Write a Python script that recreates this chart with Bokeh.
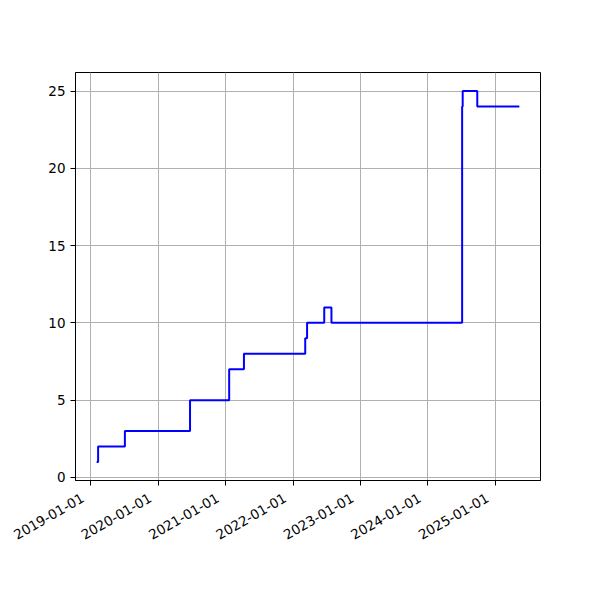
import math
import pandas as pd
from bokeh.plotting import figure
from bokeh.models import FixedTicker, Range1d, LinearAxis
from bokeh.embed import file_html
from bokeh.resources import INLINE

dates = ["2019-02-02", "2019-02-10", "2019-07-05", "2020-06-22", "2021-01-20",
         "2021-04-10", "2022-03-08", "2022-03-18", "2022-06-19", "2022-07-28",
         "2024-07-05", "2024-07-08", "2024-09-25", "2025-05-11"]
values = [1, 2, 3, 5, 7, 8, 9, 10, 11, 10, 24, 25, 24, 24]
tick_dates = ["2019-01-01", "2020-01-01", "2021-01-01", "2022-01-01",
              "2023-01-01", "2024-01-01", "2025-01-01"]
y_ticks = [0, 5, 10, 15, 20, 25]

x = pd.to_datetime(dates)
xt = [pd.Timestamp(d).value / 1e6 for d in tick_dates]

x0 = pd.Timestamp(dates[0]).value / 1e6
x1 = pd.Timestamp(dates[-1]).value / 1e6
dx = (x1 - x0) * 0.05
ymin, ymax = min(values), max(values)
dy = (ymax - ymin) * 0.05

FRAME_W = 465
p = figure(width=592, height=592, x_axis_type="datetime",
           output_backend="svg", toolbar_location=None,
           x_range=Range1d(x0 - dx, x1 + dx),
           y_range=Range1d(ymin - dy, ymax + dy),
           min_border_left=75, min_border_right=52,
           min_border_top=72, min_border_bottom=112)

p.step(x, values, mode="after", line_color="blue", line_width=2)

# tick marks at Jan 1, no labels
p.xaxis.ticker = FixedTicker(ticks=xt)
p.xaxis.major_label_overrides = {t: "" for t in xt}
p.xaxis.major_label_standoff = 0
p.yaxis.ticker = FixedTicker(ticks=y_ticks)

# label-only axis, labels shifted slightly left like matplotlib's right-aligned rotated labels
ms_per_px = ((x1 + dx) - (x0 - dx)) / FRAME_W
shift = 8 * ms_per_px
xt_lab = [t - shift for t in xt]
lab_axis = LinearAxis(ticker=FixedTicker(ticks=xt_lab),
                      major_label_overrides={t: d for t, d in zip(xt_lab, tick_dates)},
                      major_label_orientation=math.pi / 6,
                      axis_line_color=None, major_tick_line_color=None,
                      minor_tick_line_color=None, major_label_standoff=5,
                      major_label_text_font="DejaVu Sans",
                      major_label_text_font_size="13.5px",
                      major_label_text_color="black")
p.add_layout(lab_axis, "below")

for ax in [p.xaxis[0], p.yaxis[0]]:
    ax.major_label_text_font = "DejaVu Sans"
    ax.major_label_text_font_size = "13.5px"
    ax.major_label_text_color = "black"
    ax.axis_line_color = "black"
    ax.major_tick_line_color = "black"
    ax.major_tick_in = 0
    ax.major_tick_out = 5
    ax.minor_tick_line_color = None

p.grid.grid_line_color = "#b0b0b0"
p.grid.grid_line_width = 1
p.grid.grid_line_alpha = 1.0
p.outline_line_color = "black"
p.outline_line_width = 1
p.outline_line_alpha = 1.0

open("out.html", "w").write(file_html(p, INLINE))
